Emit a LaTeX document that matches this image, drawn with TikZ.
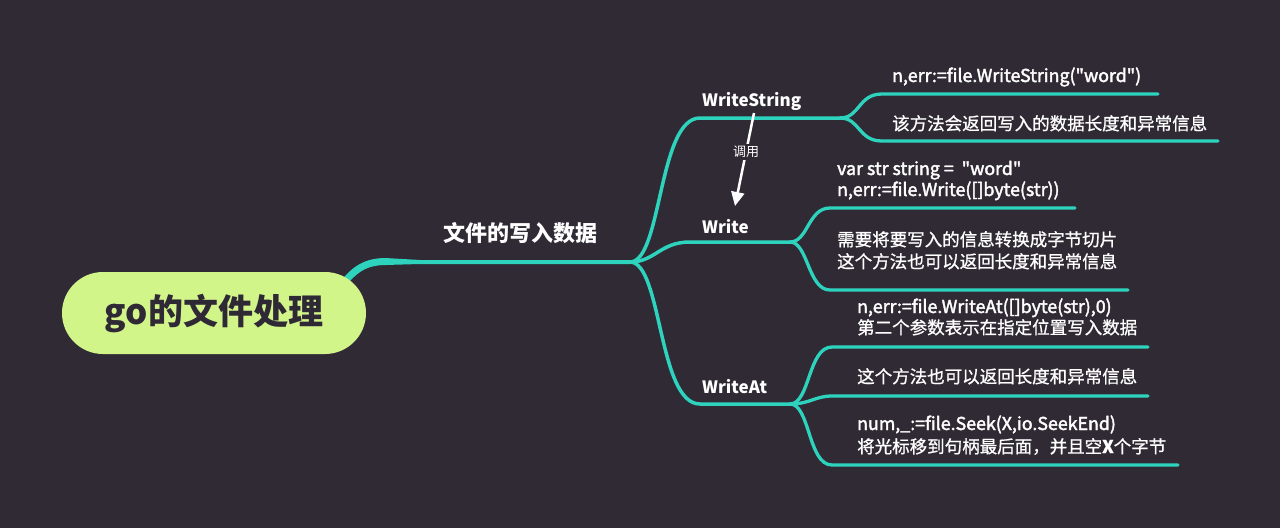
\documentclass[tikz,border=0pt]{standalone}
\usepackage{fontspec}
\setmainfont{Noto Sans CJK SC}
\newfontfamily\codefont[FakeBold=2.2]{Noto Sans CJK SC}
\newfontfamily\zhfont[FakeBold=0.9]{Noto Sans CJK SC}
\newcommand\dq{\char34\relax}
\usetikzlibrary{arrows.meta}
\definecolor{bg}{HTML}{302A35}
\definecolor{teal}{HTML}{2ED3BE}
\definecolor{rootfill}{HTML}{D2F58A}
\definecolor{roottext}{HTML}{2F2935}
\tikzset{
  branch/.style={draw=teal, line width=3.5pt, line cap=round},
  twig/.style={draw=teal, line width=3.3pt, line cap=round},
  leaf/.style={anchor=base west, inner sep=0pt, text=white, font=\fontsize{17.5}{20}\zhfont},
  code/.style={anchor=base west, inner sep=0pt, text=white, font=\fontsize{17.8}{20}\codefont},
  label/.style={anchor=base west, inner sep=0pt, text=white, font=\fontsize{17}{20}\selectfont\bfseries},
  rootbox/.style={fill=rootfill, rounded corners=41pt, minimum width=304pt, minimum height=82pt, inner sep=0pt, text=roottext, font=\fontsize{35}{40}\selectfont\bfseries},
}
\begin{document}
\begin{tikzpicture}[x=1pt,y=-1pt]
\fill[bg] (0,0) rectangle (1280,528);
\useasboundingbox (0,0) rectangle (1280,528);

\coordinate (B) at (630,262);
\coordinate (R1) at (386,261.5);
% tapered connector root -> main branch
\draw[teal, line width=7pt] (333,298) .. controls (350,272) and (362,261.5) .. (R1);
\fill[teal] (385,258) -- (420,260) -- (630,260) -- (630,264) -- (420,264) -- (385,265) -- cycle;

\node[rootbox] (root) at (214,313) {go的文件处理};

\node[anchor=base, inner sep=0pt, text=white, font=\fontsize{22}{24}\selectfont\bfseries] (main) at (520,241) {文件的写入数据};

% level-2 labels
\node[label] (ws) at (702,106) {WriteString};
\node[label] (w) at (702,233) {Write};
\node[label] (wa) at (702,393) {WriteAt};

\coordinate (S1) at (840,118);
\coordinate (S2) at (790,242);
\coordinate (S3) at (790,404);

\draw[branch] (B) .. controls (662,262) and (658,118) .. (700,118) -- (S1);
\draw[branch] (B) .. controls (655,262) and (660,242) .. (690,242) -- (S2);
\draw[branch] (B) .. controls (662,262) and (658,404) .. (700,404) -- (S3);

% WriteString leaves
\coordinate (L1e) at (1158,94);
\coordinate (L2e) at (1218,141);
\draw[twig] (S1) .. controls (860,118) and (858,94) .. (882,94) -- (L1e);
\draw[twig] (S1) .. controls (860,118) and (858,141) .. (882,141) -- (L2e);
\node[code] (t1) at (892,82) {n,err:=file.WriteString(\dq word\dq)};
\node[leaf] (t2) at (892,130) {该方法会返回写入的数据长度和异常信息};

% Write leaves
\coordinate (L3e) at (1075,208);
\coordinate (L4e) at (1128,290);
\draw[twig] (S2) .. controls (808,242) and (808,208) .. (830,208) -- (L3e);
\draw[twig] (S2) .. controls (808,242) and (808,290) .. (830,290) -- (L4e);
\node[code] (t3) at (837,175) {var str string =~~\dq word\dq};
\node[code] (t4) at (837,196) {n,err:=file.Write([]byte(str))};
\node[leaf] (t5) at (837,246) {需要将要写入的信息转换成字节切片};
\node[leaf] (t6) at (837,268) {这个方法也可以返回长度和异常信息};

% WriteAt leaves
\coordinate (L5e) at (1148,347);
\coordinate (L6e) at (1148,396);
\coordinate (L7e) at (1178,465);
\draw[twig] (S3) .. controls (810,404) and (808,347) .. (832,347) -- (L5e);
\draw[twig] (S3) .. controls (810,404) and (815,396) .. (832,396) -- (L6e);
\draw[twig] (S3) .. controls (810,404) and (808,465) .. (832,465) -- (L7e);
\node[code] (t7) at (857,313) {n,err:=file.WriteAt([]byte(str),0)};
\node[leaf] (t8) at (857,334) {第二个参数表示在指定位置写入数据};
\node[leaf] (t9) at (857,383) {这个方法也可以返回长度和异常信息};
\node[code] (t10) at (857,430) {num,\_:=file.Seek(X,io.SeekEnd)};
\node[leaf] (t11) at (857,453) {将光标移到句柄最后面，并且空{\bfseries X}个字节};

% call arrow
\coordinate (aS) at (754,113);
\coordinate (aE) at (735,206);
\draw[white, line width=2.5pt, -{Triangle[length=14pt,width=13pt]}] (aS) -- node[pos=0.42, fill=bg, inner sep=2pt, text=white, font=\fontsize{13}{15}\selectfont] (call) {调用} (aE);
\end{tikzpicture}
\end{document}
